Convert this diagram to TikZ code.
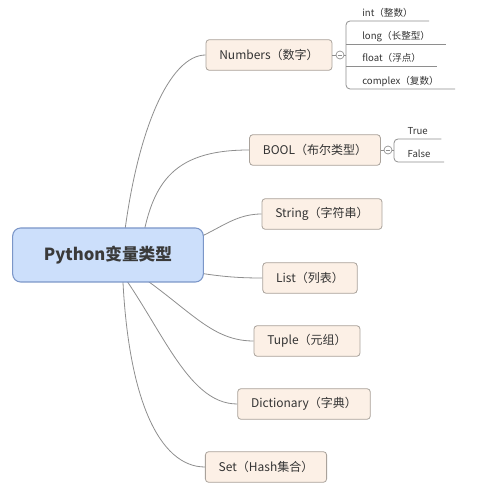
\documentclass[tikz,border=0pt]{standalone}
\usepackage{fontspec}
\setmainfont{Noto Sans CJK SC}
\usepackage{tikz}
\usetikzlibrary{backgrounds,calc}
\definecolor{rootfill}{HTML}{CCDFFB}
\definecolor{rootline}{HTML}{7B96C8}
\definecolor{roottext}{HTML}{3A3A3A}
\definecolor{topicfill}{HTML}{FCF0E6}
\definecolor{topicline}{HTML}{A9A29B}
\definecolor{topictext}{HTML}{333333}
\definecolor{linkgray}{HTML}{8E8E8E}

\begin{document}
\begin{tikzpicture}[x=0.75pt,y=-0.75pt,
  root/.style={draw=rootline,fill=rootfill,rounded corners=6pt,line width=0.8pt,
    minimum width=143pt,minimum height=40.5pt,text=roottext,
    font=\bfseries\fontsize{12.5}{14}\selectfont},
  topic/.style={draw=topicline,fill=topicfill,rounded corners=2.5pt,line width=0.6pt,
    minimum height=23pt,inner xsep=10pt,text=topictext,
    font=\fontsize{9}{11}\selectfont},
  leaf/.style={anchor=south west,inner xsep=12pt,inner ysep=1.5pt,
    text height=7pt,text depth=2pt,text=topictext,
    font=\fontsize{7.2}{8}\selectfont},
  fold/.style={circle,draw=linkgray,fill=white,line width=0.5pt,minimum size=6pt,inner sep=0pt,
    path picture={\draw[linkgray,line width=0.5pt]
      ([xshift=-1.8pt]path picture bounding box.center) --
      ([xshift=1.8pt]path picture bounding box.center);}},
  link/.style={draw=linkgray,line width=0.6pt}]

\useasboundingbox (0,0) rectangle (497,488);

\node[root] (py) at (108,255) {Python变量类型};

\node[topic] (num) at (269,55) {Numbers（数字）};
\node[topic] (bool) at (315,150) {BOOL（布尔类型）};
\node[topic] (str) at (322,214) {String（字符串）};
\node[topic] (lst) at (310,278) {List（列表）};
\node[topic] (tup) at (307,341) {Tuple（元组）};
\node[topic] (dict) at (304,404) {Dictionary（字典）};
\node[topic] (set) at (266,467) {Set（Hash集合）};

% children of Numbers
\node[fold] (numc) at (340,55) {};
\node[leaf] (int) at (346,21) {int（整数）};
\node[leaf] (long) at (346,44) {long（长整型）};
\node[leaf] (flt) at (346,66) {float（浮点）};
\node[leaf] (cpx) at (346,89) {complex（复数）};

% children of BOOL
\node[fold] (boolc) at (388,150) {};
\node[leaf,inner xsep=10pt] (true) at (394,139) {True};
\node[leaf,inner xsep=10pt] (false) at (394,162) {False};

\draw[link] (num.east) -- (numc.west);
\draw[link] (numc.east) -- (numc -| int.south west);
\draw[link,rounded corners=3pt] (int.south east) -- (int.south west) -- (cpx.south west) -- (cpx.south east);
\draw[link] (long.south west) -- (long.south east);
\draw[link] (flt.south west) -- (flt.south east);

\draw[link] (bool.east) -- (boolc.west);
\draw[link] (boolc.east) -- (boolc -| true.south west);
\draw[link,rounded corners=3pt] (true.south east) -- (true.south west) -- (false.south west) -- (false.south east);

\begin{scope}[on background layer]
\draw[link] ($(py.center)+(14,0)$) .. controls (135,130) and (170,55) .. (num.west);
\draw[link] ($(py.center)+(32,0)$) .. controls (150,185) and (170,150) .. (bool.west);
\draw[link] ($(py.center)+(70,-10)$) .. controls (215,235) and (230,214) .. (str.west);
\draw[link] (py.center) .. controls (200,275) and (225,278) .. (lst.west);
\draw[link] (py.center) .. controls (185,300) and (205,341) .. (tup.west);
\draw[link] (py.center) .. controls (160,320) and (185,404) .. (dict.west);
\draw[link] ($(py.center)+(14,0)$) .. controls (125,400) and (160,467) .. (set.west);
\end{scope}
\end{tikzpicture}
\end{document}
